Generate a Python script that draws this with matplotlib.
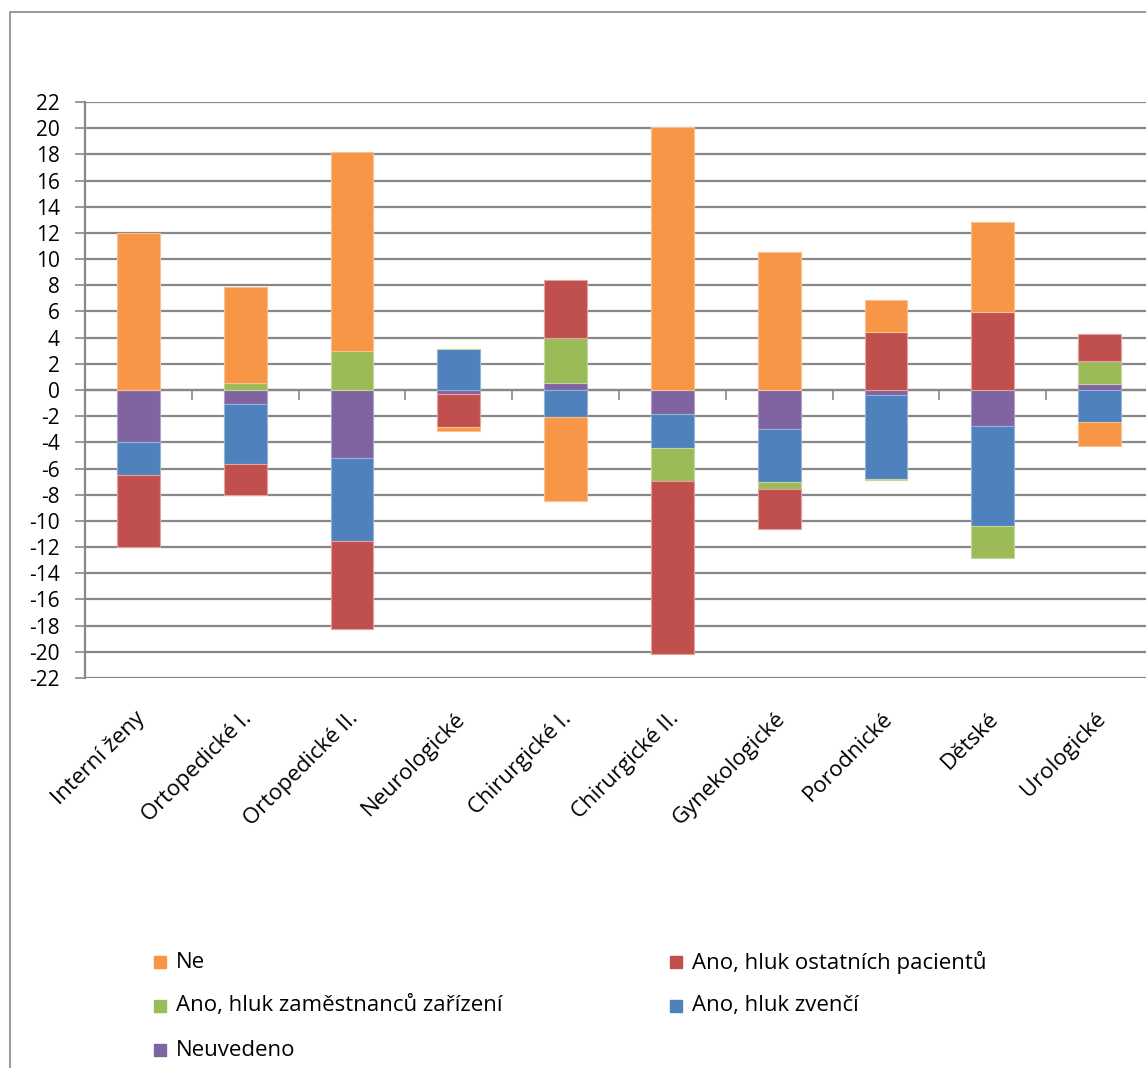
import matplotlib
matplotlib.use("Agg")
import matplotlib.pyplot as plt
import matplotlib.transforms as mtransforms
from matplotlib.patches import Rectangle
import numpy as np

plt.rcParams['font.family'] = ['Open Sans', 'DejaVu Sans']

categories = ["Interní ženy", "Ortopedické I.", "Ortopedické II.", "Neurologické",
              "Chirurgické I.", "Chirurgické II.", "Gynekologické", "Porodnické",
              "Dětské", "Urologické"]

# signed values (diverging stacked layout)
ne          = [12.0, 7.4, 15.2, -0.3, -6.35, 20.1, 10.55, 2.45, 6.85, -1.8]
ostatnich   = [-5.5, -2.4, -6.75, -2.5, 4.4, -13.2, -3.05, 4.45, 5.95, 2.05]
zamestnancu = [0.0, 0.5, 3.0, 0.0, 3.45, -2.55, -0.5, -0.08, -2.45, 1.8]
zvenci      = [-2.5, -4.6, -6.3, 3.1, -2.1, -2.6, -4.1, -6.45, -7.65, -2.45]
neuvedeno   = [-4.0, -1.05, -5.2, -0.3, 0.55, -1.8, -2.95, -0.35, -2.75, 0.43]

series_names = ["Ne", "Ano, hluk ostatních pacientů", "Ano, hluk zaměstnanců zařízení",
                "Ano, hluk zvenčí", "Neuvedeno"]
series_vals = [ne, ostatnich, zamestnancu, zvenci, neuvedeno]
colors = ["#F79646", "#C0504D", "#9BBB59", "#4F81BD", "#8064A2"]
edges = ["#FAC090", "#E6A09E", "#C3D69B", "#95B3D7", "#B3A2C7"]
yticks = list(range(-22, 23, 2))

W, H = 1146, 1068
fig = plt.figure(figsize=(W / 100, H / 100), dpi=100)
ax = fig.add_axes([85 / W, 1 - 678 / H, (1153 - 85) / W, 576 / H])

x = np.arange(len(categories))
pos_b = np.zeros(len(categories))
neg_b = np.zeros(len(categories))
# stacking order: last series nearest zero
for idx in [4, 3, 2, 1, 0]:
    v = np.array(series_vals[idx], dtype=float)
    bottoms = np.where(v >= 0, pos_b, neg_b)
    ax.bar(x, v, 0.4, bottom=bottoms, color=colors[idx], edgecolor=edges[idx],
           linewidth=0.8, zorder=3)
    pos_b = pos_b + np.where(v >= 0, v, 0)
    neg_b = neg_b + np.where(v < 0, v, 0)

ax.set_xlim(-0.5, len(categories) - 0.5)
ax.set_ylim(-22, 22)
ax.set_yticks(yticks)
ax.set_yticklabels([str(t) for t in yticks], fontsize=15)
ax.yaxis.grid(True, color="#878787", linewidth=1.6, zorder=0)
ax.tick_params(axis='y', length=7, width=1.2, color="#878787", pad=11)
for s in ["top", "right"]:
    ax.spines[s].set_visible(False)
ax.spines["left"].set_color("#878787")
ax.spines["left"].set_linewidth(1.6)
ax.spines["bottom"].set_position(("data", 0))
ax.spines["bottom"].set_color("#878787")
ax.spines["bottom"].set_linewidth(1.6)
ax.set_xticks(np.arange(-0.5, len(categories), 1.0))
ax.set_xticklabels([])
ax.tick_params(axis='x', length=7, width=1.2, color="#878787", direction='out')

trans = mtransforms.blended_transform_factory(ax.transData, fig.transFigure)
for i, c in enumerate(categories):
    ax.text(i - 0.04, 1 - 708 / H, c, transform=trans, rotation=45,
            rotation_mode='anchor', ha='right', va='top', fontsize=16)

# chart border
fig.add_artist(Rectangle((10 / W, -0.1), 1.2, 1 - 12 / H + 0.1, transform=fig.transFigure,
                         fill=False, edgecolor="#888888", linewidth=1.2))

# legend (row-wise, two columns)
leg_pos = [(160, 962), (676, 962), (160, 1006), (676, 1006), (160, 1050)]
for (lx, ly), name, col in zip(leg_pos, series_names, colors):
    fig.add_artist(Rectangle(((lx - 6) / W, 1 - (ly + 6) / H), 12 / W, 12 / H,
                             transform=fig.transFigure, color=col))
    fig.text((lx + 16) / W, 1 - ly / H, name, ha='left', va='center', fontsize=16)

fig.savefig("out.png", dpi=100)
